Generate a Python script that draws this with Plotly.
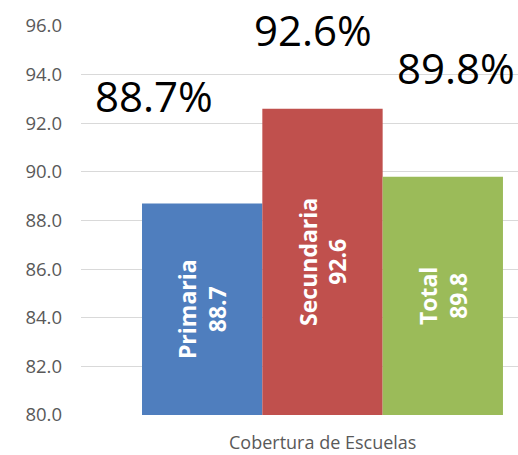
import plotly.graph_objects as go

category = ["Cobertura de Escuelas"]
series_names = ["Primaria", "Secundaria", "Total"]
series_values = [88.7, 92.6, 89.8]
series_colors = ["#4F7EBE", "#C0504D", "#9BBB59"]
axis_min = 80.0
axis_max = 96.0
y_ticks = [80, 82, 84, 86, 88, 90, 92, 94, 96]
y_tick_labels = ["80.0", "82.0", "84.0", "86.0", "88.0", "90.0", "92.0", "94.0", "96.0"]

# big labels: paper x position, data y position
big_label_x = [0.168, 0.530, 0.857]
big_label_y = [93.15, 95.85, 94.3]

FONT = "Open Sans"

fig = go.Figure()
for name, val, col in zip(series_names, series_values, series_colors):
    # bars start at the axis minimum so the inside label centres in the visible bar
    fig.add_trace(go.Bar(
        x=category, y=[val - axis_min], base=[axis_min], name=name,
        marker=dict(color=col, line=dict(width=0)),
        text=[f"{name}<br>{val:.1f}"],
        textposition="inside", insidetextanchor="middle",
        textangle=-90,
        textfont=dict(family=FONT, size=23, color="white", weight="bold"),
        hovertext=[f"{name}: {val:.1f}"], hoverinfo="text",
    ))

for val, xp, yp in zip(series_values, big_label_x, big_label_y):
    fig.add_annotation(
        text=f"{val:.1f}%", xref="paper", x=xp, yref="y", y=yp,
        showarrow=False, xanchor="center", yanchor="middle",
        font=dict(family=FONT, size=42, color="black"),
    )

fig.add_annotation(
    text=category[0], xref="paper", x=0.553, yref="paper", y=-0.07,
    showarrow=False, xanchor="center", yanchor="middle",
    font=dict(family=FONT, size=18, color="#595959"),
)

fig.update_layout(
    width=518, height=455,
    margin=dict(l=81, r=0, t=26, b=40),
    barmode="group", bargap=0.174, bargroupgap=0,
    plot_bgcolor="white", paper_bgcolor="white",
    showlegend=False,
    font=dict(family=FONT, color="#595959"),
    xaxis=dict(
        type="category", range=[-0.5526, 0.4474],
        showticklabels=False, showgrid=False, zeroline=False,
        showline=False, ticks="",
    ),
    yaxis=dict(
        range=[axis_min, axis_max], tickvals=y_ticks, ticktext=y_tick_labels,
        showgrid=True, gridcolor="#D9D9D9", gridwidth=1,
        zeroline=False, showline=False, ticks="",
        ticklabelstandoff=18,
        tickfont=dict(family=FONT, size=18.5, color="#595959"),
    ),
)

fig.write_html("out.html")
